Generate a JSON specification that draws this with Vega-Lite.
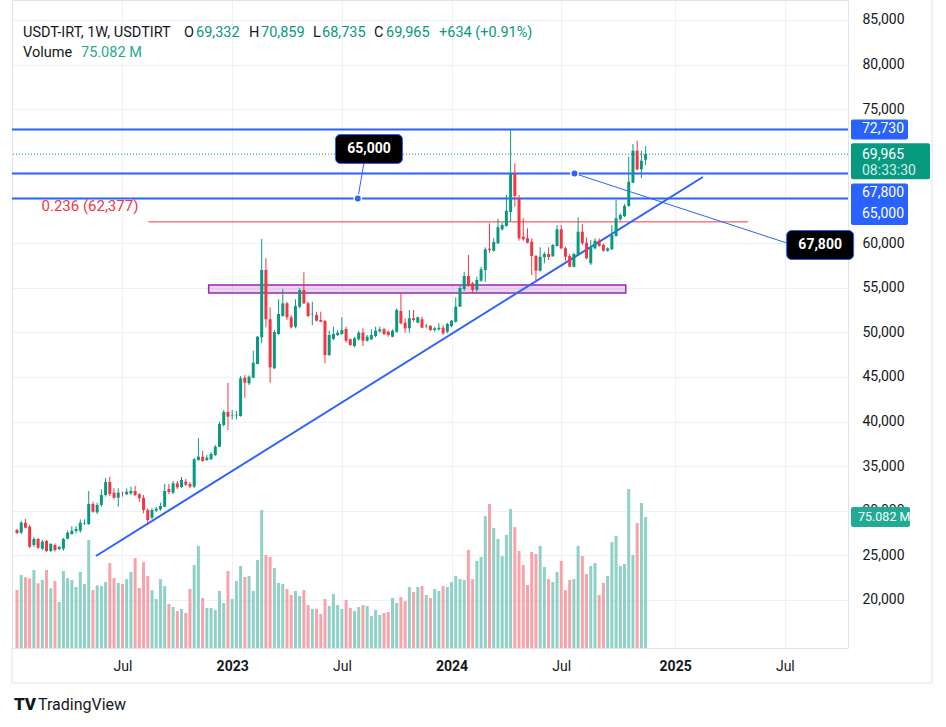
{
"$schema":"https://vega.github.io/schema/vega-lite/v6.json",
"width":836,"height":648,
"autosize":{"type":"none"},
"padding":{"left":12,"top":0,"right":98,"bottom":79},
"background":"#ffffff",
"config":{"view":{"stroke":"#e0e3eb"},"font":"Roboto","text":{"font":"Roboto"}},
"datasets":{
"ohlc":[
{"t":"2022-01-10","o":27844,"h":27956,"l":27395,"c":27507,"v":33.2},
{"t":"2022-01-17","o":27542,"h":28853,"l":27396,"c":28663,"v":41.8},
{"t":"2022-01-24","o":28663,"h":29077,"l":27990,"c":28102,"v":40.5},
{"t":"2022-01-31","o":28214,"h":28405,"l":25827,"c":25972,"v":39.9},
{"t":"2022-02-07","o":26163,"h":27060,"l":25939,"c":26835,"v":44.7},
{"t":"2022-02-14","o":26835,"h":26947,"l":25715,"c":25861,"v":37.1},
{"t":"2022-02-21","o":25749,"h":26723,"l":25603,"c":26533,"v":39.0},
{"t":"2022-02-28","o":26611,"h":26723,"l":25379,"c":25491,"v":44.7},
{"t":"2022-03-07","o":25491,"h":26387,"l":25379,"c":26275,"v":34.2},
{"t":"2022-03-14","o":26163,"h":26349,"l":25416,"c":25603,"v":38.4},
{"t":"2022-03-21","o":25715,"h":26051,"l":25603,"c":25939,"v":26.4},
{"t":"2022-03-28","o":25749,"h":26947,"l":25525,"c":26835,"v":44.1},
{"t":"2022-04-04","o":26868,"h":27766,"l":26801,"c":27542,"v":40.1},
{"t":"2022-04-11","o":27396,"h":28270,"l":27318,"c":27766,"v":39.0},
{"t":"2022-04-18","o":27732,"h":28270,"l":27470,"c":27956,"v":35.0},
{"t":"2022-04-25","o":27766,"h":29040,"l":27542,"c":28663,"v":43.6},
{"t":"2022-05-02","o":28550,"h":29040,"l":28405,"c":28595,"v":36.7},
{"t":"2022-05-09","o":28517,"h":32215,"l":28405,"c":30758,"v":61.9},
{"t":"2022-05-16","o":30758,"h":31016,"l":29783,"c":29895,"v":33.2},
{"t":"2022-05-23","o":29828,"h":30904,"l":29637,"c":30646,"v":35.9},
{"t":"2022-05-30","o":30646,"h":32405,"l":30455,"c":31766,"v":35.5},
{"t":"2022-06-06","o":31766,"h":33672,"l":31576,"c":33223,"v":37.8},
{"t":"2022-06-13","o":33223,"h":33818,"l":31654,"c":31878,"v":48.7},
{"t":"2022-06-20","o":32024,"h":32517,"l":31284,"c":31464,"v":40.1},
{"t":"2022-06-27","o":31464,"h":32517,"l":30455,"c":32024,"v":37.3},
{"t":"2022-07-04","o":32024,"h":32136,"l":31576,"c":31990,"v":36.7},
{"t":"2022-07-11","o":31845,"h":32517,"l":31766,"c":32136,"v":39.5},
{"t":"2022-07-18","o":31957,"h":32706,"l":31766,"c":32215,"v":43.6},
{"t":"2022-07-25","o":32215,"h":32785,"l":31654,"c":31766,"v":51.6},
{"t":"2022-08-01","o":31845,"h":31957,"l":31015,"c":31397,"v":34.4},
{"t":"2022-08-08","o":31464,"h":31766,"l":29715,"c":30085,"v":49.3},
{"t":"2022-08-15","o":30085,"h":30275,"l":28405,"c":28965,"v":41.3},
{"t":"2022-08-22","o":29222,"h":30276,"l":29043,"c":30085,"v":33.2},
{"t":"2022-08-29","o":30007,"h":30455,"l":29861,"c":30231,"v":28.1},
{"t":"2022-09-05","o":30164,"h":30903,"l":30007,"c":30534,"v":39.5},
{"t":"2022-09-12","o":30455,"h":32999,"l":30388,"c":32215,"v":35.5},
{"t":"2022-09-19","o":32439,"h":32999,"l":31878,"c":32102,"v":25.2},
{"t":"2022-09-26","o":32024,"h":33333,"l":31878,"c":33075,"v":23.5},
{"t":"2022-10-03","o":33075,"h":33333,"l":32439,"c":32627,"v":21.2},
{"t":"2022-10-10","o":32663,"h":33784,"l":32551,"c":33450,"v":22.4},
{"t":"2022-10-17","o":33257,"h":33560,"l":32775,"c":32920,"v":20.1},
{"t":"2022-10-24","o":32999,"h":33224,"l":32551,"c":32700,"v":33.8},
{"t":"2022-10-31","o":32700,"h":35913,"l":32551,"c":35768,"v":47.6},
{"t":"2022-11-07","o":35689,"h":38121,"l":35610,"c":36059,"v":58.5},
{"t":"2022-11-14","o":36059,"h":36698,"l":35499,"c":35577,"v":28.7},
{"t":"2022-11-21","o":35689,"h":36250,"l":35577,"c":35946,"v":22.9},
{"t":"2022-11-28","o":35768,"h":36586,"l":35689,"c":36363,"v":22.9},
{"t":"2022-12-05","o":36250,"h":37370,"l":36138,"c":37180,"v":21.8},
{"t":"2022-12-12","o":37180,"h":39981,"l":37113,"c":39723,"v":32.7},
{"t":"2022-12-19","o":39611,"h":41292,"l":39424,"c":41068,"v":25.8},
{"t":"2022-12-26","o":41068,"h":44352,"l":39051,"c":40541,"v":44.1},
{"t":"2023-01-02","o":40676,"h":41292,"l":40250,"c":40732,"v":28.1},
{"t":"2023-01-09","o":40697,"h":41180,"l":40250,"c":40764,"v":38.4},
{"t":"2023-01-16","o":40620,"h":45105,"l":40541,"c":44845,"v":47.0},
{"t":"2023-01-23","o":44912,"h":45215,"l":42671,"c":44352,"v":40.7},
{"t":"2023-01-30","o":44285,"h":45182,"l":44094,"c":45026,"v":41.3},
{"t":"2023-02-06","o":44912,"h":47938,"l":44845,"c":46593,"v":32.7},
{"t":"2023-02-13","o":46447,"h":49585,"l":46413,"c":49507,"v":50.4},
{"t":"2023-02-20","o":49440,"h":60456,"l":48766,"c":56982,"v":79.1},
{"t":"2023-02-27","o":56982,"h":58293,"l":50560,"c":51457,"v":53.3},
{"t":"2023-03-06","o":51457,"h":52802,"l":44352,"c":46078,"v":52.2},
{"t":"2023-03-13","o":45966,"h":50258,"l":45887,"c":50034,"v":45.8},
{"t":"2023-03-20","o":49810,"h":53698,"l":49698,"c":52052,"v":37.3},
{"t":"2023-03-27","o":51827,"h":54818,"l":51749,"c":53250,"v":36.7},
{"t":"2023-04-03","o":53250,"h":53429,"l":51379,"c":51681,"v":33.8},
{"t":"2023-04-10","o":51681,"h":51940,"l":50448,"c":50560,"v":30.4},
{"t":"2023-04-17","o":50627,"h":53698,"l":50448,"c":52947,"v":32.7},
{"t":"2023-04-24","o":52869,"h":54930,"l":52690,"c":54741,"v":29.8},
{"t":"2023-05-01","o":54741,"h":56724,"l":53172,"c":53250,"v":33.2},
{"t":"2023-05-08","o":53250,"h":53429,"l":51681,"c":51827,"v":24.6},
{"t":"2023-05-15","o":52018,"h":53429,"l":50817,"c":52085,"v":22.4},
{"t":"2023-05-22","o":51940,"h":52309,"l":51188,"c":51300,"v":22.4},
{"t":"2023-05-29","o":51379,"h":52309,"l":51121,"c":51188,"v":19.5},
{"t":"2023-06-05","o":51267,"h":51379,"l":46525,"c":47456,"v":28.1},
{"t":"2023-06-12","o":47456,"h":50179,"l":47344,"c":49698,"v":24.1},
{"t":"2023-06-19","o":49250,"h":50627,"l":49138,"c":49810,"v":30.9},
{"t":"2023-06-26","o":49698,"h":50258,"l":49585,"c":49955,"v":24.6},
{"t":"2023-07-03","o":49810,"h":51681,"l":49698,"c":50258,"v":22.4},
{"t":"2023-07-10","o":50370,"h":50627,"l":48835,"c":49059,"v":27.5},
{"t":"2023-07-17","o":49216,"h":49328,"l":48466,"c":48578,"v":22.9},
{"t":"2023-07-24","o":48466,"h":49507,"l":48320,"c":49328,"v":21.2},
{"t":"2023-07-31","o":49216,"h":50179,"l":49059,"c":49955,"v":23.5},
{"t":"2023-08-07","o":49955,"h":50448,"l":48466,"c":49059,"v":24.6},
{"t":"2023-08-14","o":49059,"h":49698,"l":48947,"c":49507,"v":24.1},
{"t":"2023-08-21","o":49216,"h":50336,"l":49138,"c":49698,"v":18.3},
{"t":"2023-08-28","o":49585,"h":50627,"l":49440,"c":50179,"v":21.8},
{"t":"2023-09-04","o":50112,"h":50627,"l":49955,"c":50336,"v":18.9},
{"t":"2023-09-11","o":50336,"h":50515,"l":49698,"c":49810,"v":20.1},
{"t":"2023-09-18","o":50067,"h":50179,"l":49507,"c":49698,"v":20.6},
{"t":"2023-09-25","o":49507,"h":50336,"l":49440,"c":50179,"v":28.7},
{"t":"2023-10-02","o":50067,"h":52690,"l":49955,"c":52499,"v":25.8},
{"t":"2023-10-09","o":52387,"h":54371,"l":50897,"c":51009,"v":29.2},
{"t":"2023-10-16","o":51076,"h":51570,"l":49955,"c":50448,"v":26.9},
{"t":"2023-10-23","o":50448,"h":52499,"l":49955,"c":51570,"v":35.0},
{"t":"2023-10-30","o":51570,"h":52499,"l":51188,"c":51379,"v":32.1},
{"t":"2023-11-06","o":51076,"h":51749,"l":51009,"c":51681,"v":35.0},
{"t":"2023-11-13","o":51457,"h":51749,"l":50448,"c":50515,"v":35.5},
{"t":"2023-11-20","o":50672,"h":50930,"l":50448,"c":50739,"v":30.4},
{"t":"2023-11-27","o":50706,"h":50818,"l":50146,"c":50258,"v":28.7},
{"t":"2023-12-04","o":50258,"h":50627,"l":50067,"c":50448,"v":33.8},
{"t":"2023-12-11","o":50336,"h":51009,"l":50179,"c":50515,"v":32.7},
{"t":"2023-12-18","o":50515,"h":50818,"l":49698,"c":49888,"v":35.5},
{"t":"2023-12-25","o":50067,"h":51076,"l":49888,"c":50930,"v":35.0},
{"t":"2024-01-01","o":50706,"h":51379,"l":50560,"c":51300,"v":37.8},
{"t":"2024-01-08","o":51188,"h":53920,"l":51076,"c":52869,"v":41.3},
{"t":"2024-01-15","o":52869,"h":55189,"l":52832,"c":54965,"v":39.5},
{"t":"2024-01-22","o":54853,"h":56792,"l":54629,"c":56310,"v":39.0},
{"t":"2024-01-29","o":56310,"h":58663,"l":55115,"c":55189,"v":56.2},
{"t":"2024-02-05","o":55491,"h":55670,"l":54371,"c":54741,"v":39.5},
{"t":"2024-02-12","o":54741,"h":56232,"l":54551,"c":55861,"v":49.9},
{"t":"2024-02-19","o":55783,"h":57350,"l":55670,"c":57060,"v":52.2},
{"t":"2024-02-26","o":56982,"h":59526,"l":55670,"c":59302,"v":75.6},
{"t":"2024-03-04","o":59369,"h":62216,"l":58921,"c":59223,"v":82.5},
{"t":"2024-03-11","o":59145,"h":60535,"l":59033,"c":60120,"v":68.8},
{"t":"2024-03-18","o":59974,"h":62731,"l":59897,"c":61767,"v":62.5},
{"t":"2024-03-25","o":61543,"h":62283,"l":61386,"c":62025,"v":52.7},
{"t":"2024-04-01","o":61913,"h":65387,"l":61835,"c":63628,"v":64.8},
{"t":"2024-04-08","o":63483,"h":72730,"l":62396,"c":67820,"v":79.7},
{"t":"2024-04-15","o":67820,"h":68940,"l":64076,"c":65275,"v":69.3},
{"t":"2024-04-22","o":65017,"h":65387,"l":60266,"c":60535,"v":55.6},
{"t":"2024-04-29","o":60714,"h":62776,"l":60266,"c":60423,"v":47.6},
{"t":"2024-05-06","o":60535,"h":61655,"l":59974,"c":60042,"v":36.1},
{"t":"2024-05-13","o":60154,"h":60535,"l":56422,"c":58551,"v":55.0},
{"t":"2024-05-20","o":58551,"h":58663,"l":55861,"c":56904,"v":53.9},
{"t":"2024-05-27","o":56904,"h":59526,"l":56792,"c":58473,"v":58.5},
{"t":"2024-06-03","o":58405,"h":59033,"l":57733,"c":58775,"v":46.4},
{"t":"2024-06-10","o":58775,"h":59526,"l":58103,"c":58439,"v":39.5},
{"t":"2024-06-17","o":58517,"h":59897,"l":58473,"c":59784,"v":37.8},
{"t":"2024-06-24","o":59672,"h":62025,"l":59593,"c":61543,"v":43.6},
{"t":"2024-07-01","o":61543,"h":62025,"l":59302,"c":59414,"v":49.9},
{"t":"2024-07-08","o":59414,"h":59593,"l":58025,"c":58473,"v":33.2},
{"t":"2024-07-15","o":58551,"h":58775,"l":57286,"c":57352,"v":39.0},
{"t":"2024-07-22","o":57352,"h":58920,"l":57286,"c":58775,"v":39.5},
{"t":"2024-07-29","o":58663,"h":62888,"l":58551,"c":61274,"v":58.5},
{"t":"2024-08-05","o":61274,"h":62138,"l":59784,"c":59974,"v":52.7},
{"t":"2024-08-12","o":60042,"h":60647,"l":58181,"c":58293,"v":42.4},
{"t":"2024-08-19","o":57733,"h":60344,"l":57532,"c":59526,"v":47.0},
{"t":"2024-08-26","o":59414,"h":60535,"l":59302,"c":60266,"v":48.7},
{"t":"2024-09-02","o":60266,"h":60535,"l":59593,"c":59672,"v":30.4},
{"t":"2024-09-09","o":59784,"h":59974,"l":59033,"c":59145,"v":37.3},
{"t":"2024-09-16","o":59145,"h":59526,"l":59033,"c":59414,"v":41.3},
{"t":"2024-09-23","o":59302,"h":62025,"l":59223,"c":60905,"v":60.7},
{"t":"2024-09-30","o":60793,"h":64827,"l":60714,"c":62776,"v":64.2},
{"t":"2024-10-07","o":62664,"h":63337,"l":62506,"c":63146,"v":47.0},
{"t":"2024-10-14","o":63034,"h":64379,"l":62888,"c":64155,"v":48.1},
{"t":"2024-10-21","o":64155,"h":69680,"l":64076,"c":66878,"v":91.1},
{"t":"2024-10-28","o":66766,"h":71103,"l":66699,"c":70352,"v":53.3},
{"t":"2024-11-04","o":70352,"h":71473,"l":68132,"c":68267,"v":71.6},
{"t":"2024-11-11","o":68267,"h":70352,"l":67260,"c":69232,"v":83.1},
{"t":"2024-11-18","o":69332,"h":70859,"l":68735,"c":69965,"v":75.082}
],
"levels":[{"p":72730},{"p":67800},{"p":65000}],
"trend":[{"t1":"2022-05-21","p1":24930,"t2":"2025-02-21","p2":67405}],
"fib":[{"t1":"2022-08-16","t2":"2025-05-07","p":62377,"label":"0.236 (62,377)"}],
"zone":[{"t1":"2022-11-24","t2":"2024-10-16","p1":55302,"p2":54406}],
"callLines":[{"t1":"2023-08-08T16:00:00Z","p1":68974,"t2":"2023-07-29T12:00:00Z","p2":65000},{"t1":"2024-07-23","p1":67800,"t2":"2025-07-10T12:00:00Z","p2":60000}],
"callDots":[{"t":"2023-07-29T12:00:00Z","p":65000},{"t":"2024-07-23","p":67800}],
"callBoxes":[{"t":"2023-08-17","p":70543,"label":"65,000"},{"t":"2025-09-03T14:00:00Z","p":59784,"label":"67,800"}]
},
"layer":[
{"layer":[
 {"data":{"name":"ohlc"},"mark":{"type":"bar","width":3,"clip":true},
  "encoding":{
   "x":{"field":"t","type":"temporal","title":null,"scale":{"domain":[{"year":2022,"month":1,"date":10,"utc":true},{"year":2025,"month":10,"date":11,"hours":12,"utc":true}]},
     "axis":{"orient":"bottom","title":null,"values":[{"year":2022,"month":7,"date":4,"utc":true},{"year":2023,"month":1,"date":2,"utc":true},{"year":2023,"month":7,"date":3,"utc":true},{"year":2024,"month":1,"date":1,"utc":true},{"year":2024,"month":7,"date":1,"utc":true},{"year":2025,"month":1,"date":6,"utc":true},{"year":2025,"month":7,"date":7,"utc":true}],
      "labelExpr":"utcFormat(datum.value,'%m')=='01' ? utcFormat(datum.value,'%Y') : utcFormat(datum.value,'%b')",
      "labelFontWeight":{"condition":{"test":"utcmonth(datum.value)===0","value":"bold"},"value":"normal"},
      "grid":true,"gridColor":"#eef0f5","ticks":false,"domain":false,"labelPadding":11,"labelFontSize":14,"labelColor":"#131722","labelFont":"Roboto","labelFlush":false,"labelOverlap":false}},
   "y":{"field":"v","type":"quantitative","title":null,"scale":{"domain":[0,371.4],"nice":false,"zero":false},"axis":null},
   "color":{"condition":{"test":"datum.c >= datum.o","value":"#8fd1c6"},"value":"#f7a3aa"}}},
 {"data":{"values":[{}]},"mark":{"type":"rect","fill":"#22ab94","cornerRadius":2,"yOffset":-10,"y2Offset":10},
  "encoding":{"x":{"value":839},"x2":{"value":898},"y":{"datum":75.082,"title":null,"axis":null},"y2":{"datum":75.082}}},
 {"data":{"values":[{}]},"mark":{"type":"text","text":"75.082 M","align":"left","baseline":"middle","color":"#ffffff","fontSize":12.5},
  "encoding":{"x":{"value":846},"y":{"datum":75.082,"title":null,"axis":null}}}
]},
{"layer":[
 {"data":{"name":"levels"},"mark":{"type":"rule","color":"#2962ff","strokeWidth":2},
  "encoding":{"y":{"field":"p","type":"quantitative","title":null}}},
 {"data":{"values":[{}]},"mark":{"type":"rule","color":"#089981","strokeWidth":1,"strokeDash":[1,2]},
  "encoding":{"y":{"datum":69965,"title":null}}},
 {"data":{"name":"fib"},"mark":{"type":"rule","color":"#f23645","strokeWidth":1},
  "encoding":{"x":{"field":"t1","type":"temporal","title":null},"x2":{"field":"t2"},"y":{"field":"p","type":"quantitative","title":null}}},
 {"data":{"name":"fib"},"mark":{"type":"text","align":"right","baseline":"middle","dx":-10,"dy":-16,"color":"#f23645","fontSize":15},
  "encoding":{"x":{"field":"t1","type":"temporal","title":null},"y":{"field":"p","type":"quantitative","title":null},"text":{"field":"label"}}},
 {"data":{"name":"zone"},"mark":{"type":"rect","fill":"#9c27b0","fillOpacity":0.2,"stroke":"#9c27b0","strokeWidth":1.5},
  "encoding":{"x":{"field":"t1","type":"temporal","title":null},"x2":{"field":"t2"},"y":{"field":"p1","type":"quantitative","title":null},"y2":{"field":"p2"}}},
 {"data":{"name":"trend"},"mark":{"type":"rule","color":"#2962ff","strokeWidth":2},
  "encoding":{"x":{"field":"t1","type":"temporal","title":null},"x2":{"field":"t2"},"y":{"field":"p1","type":"quantitative","title":null},"y2":{"field":"p2"}}},
 {"data":{"name":"ohlc"},"mark":{"type":"rule","strokeWidth":1,"clip":true},
  "encoding":{"x":{"field":"t","type":"temporal","title":null},"y":{"field":"l","type":"quantitative","title":null},"y2":{"field":"h"},
   "color":{"condition":{"test":"datum.c >= datum.o","value":"#089981"},"value":"#f23645"}}},
 {"data":{"name":"ohlc"},"mark":{"type":"bar","width":3,"clip":true},
  "encoding":{"x":{"field":"t","type":"temporal","title":null},
   "y":{"field":"o","type":"quantitative","title":null,"scale":{"domain":[14620,87241],"nice":false,"zero":false},
     "axis":{"orient":"right","title":null,"values":[20000,25000,30000,35000,40000,45000,50000,55000,60000,75000,80000,85000],"labelExpr":"format(datum.value, ',')","grid":true,"gridColor":"#eef0f5","ticks":false,"domain":false,"labelPadding":14,"labelFontSize":14,"labelColor":"#131722","labelFont":"Roboto","labelAlign":"left","labelBaseline":"middle"}},
   "y2":{"field":"c"},
   "color":{"condition":{"test":"datum.c >= datum.o","value":"#089981"},"value":"#f23645"}}},
 {"data":{"name":"callLines"},"mark":{"type":"rule","color":"#2962ff","strokeWidth":1},
  "encoding":{"x":{"field":"t1","type":"temporal","title":null},"x2":{"field":"t2"},"y":{"field":"p1","type":"quantitative","title":null},"y2":{"field":"p2"}}},
 {"data":{"name":"callDots"},"mark":{"type":"point","filled":true,"color":"#2962ff","size":55,"stroke":"#ffffff","strokeWidth":1.5,"opacity":1},
  "encoding":{"x":{"field":"t","type":"temporal","title":null},"y":{"field":"p","type":"quantitative","title":null}}},
 {"data":{"name":"callBoxes"},"mark":{"type":"rect","fill":"#000000","stroke":"#2962ff","strokeWidth":1,"cornerRadius":5,"xOffset":-33.5,"x2Offset":33.5,"yOffset":-14.5,"y2Offset":14.5},
  "encoding":{"x":{"field":"t","type":"temporal","title":null},"x2":{"field":"t"},"y":{"field":"p","type":"quantitative","title":null},"y2":{"field":"p"}}},
 {"data":{"name":"callBoxes"},"mark":{"type":"text","align":"center","baseline":"middle","color":"#ffffff","fontSize":14,"fontWeight":"bold"},
  "encoding":{"x":{"field":"t","type":"temporal","title":null},"y":{"field":"p","type":"quantitative","title":null},"text":{"field":"label"}}},
 {"data":{"values":[{}]},"mark":{"type":"rect","fill":"#2962ff","cornerRadius":2,"yOffset":-10,"y2Offset":10},
  "encoding":{"x":{"value":839},"x2":{"value":896},"y":{"datum":72730,"title":null},"y2":{"datum":72730}}},
 {"data":{"values":[{}]},"mark":{"type":"text","text":"72,730","align":"left","baseline":"middle","color":"#ffffff","fontSize":14},
  "encoding":{"x":{"value":850},"y":{"datum":72730,"title":null}}},
 {"data":{"values":[{}]},"mark":{"type":"rect","fill":"#089981","cornerRadius":2,"yOffset":-11,"y2Offset":25},
  "encoding":{"x":{"value":839},"x2":{"value":918},"y":{"datum":69965,"title":null},"y2":{"datum":69965}}},
 {"data":{"values":[{}]},"mark":{"type":"text","text":"69,965","align":"left","baseline":"middle","color":"#ffffff","fontSize":14,"dy":1},
  "encoding":{"x":{"value":850},"y":{"datum":69965,"title":null}}},
 {"data":{"values":[{}]},"mark":{"type":"text","text":"08:33:30","align":"left","baseline":"middle","color":"#d3eee9","fontSize":14,"dy":17},
  "encoding":{"x":{"value":850},"y":{"datum":69965,"title":null}}},
 {"data":{"values":[{}]},"mark":{"type":"rect","fill":"#2962ff","cornerRadius":2,"yOffset":10,"y2Offset":51.5},
  "encoding":{"x":{"value":839},"x2":{"value":896},"y":{"datum":67800,"title":null},"y2":{"datum":67800}}},
 {"data":{"values":[{}]},"mark":{"type":"text","text":"67,800","align":"left","baseline":"middle","color":"#ffffff","fontSize":14,"dy":20},
  "encoding":{"x":{"value":850},"y":{"datum":67800,"title":null}}},
 {"data":{"values":[{}]},"mark":{"type":"text","text":"65,000","align":"left","baseline":"middle","color":"#ffffff","fontSize":14,"dy":40.5},
  "encoding":{"x":{"value":850},"y":{"datum":67800,"title":null}}},
 {"data":{"values":[{}]},"mark":{"type":"text","text":"USDT-IRT, 1W, USDTIRT","align":"left","baseline":"middle","color":"#131722","fontSize":14.5},"encoding":{"x":{"value":11},"y":{"value":33}}},
 {"data":{"values":[{}]},"mark":{"type":"text","text":"O","align":"left","baseline":"middle","color":"#131722","fontSize":14.5},"encoding":{"x":{"value":172},"y":{"value":33}}},
 {"data":{"values":[{}]},"mark":{"type":"text","text":"69,332","align":"left","baseline":"middle","color":"#089981","fontSize":14.5},"encoding":{"x":{"value":184},"y":{"value":33}}},
 {"data":{"values":[{}]},"mark":{"type":"text","text":"H","align":"left","baseline":"middle","color":"#131722","fontSize":14.5},"encoding":{"x":{"value":237},"y":{"value":33}}},
 {"data":{"values":[{}]},"mark":{"type":"text","text":"70,859","align":"left","baseline":"middle","color":"#089981","fontSize":14.5},"encoding":{"x":{"value":249},"y":{"value":33}}},
 {"data":{"values":[{}]},"mark":{"type":"text","text":"L","align":"left","baseline":"middle","color":"#131722","fontSize":14.5},"encoding":{"x":{"value":301},"y":{"value":33}}},
 {"data":{"values":[{}]},"mark":{"type":"text","text":"68,735","align":"left","baseline":"middle","color":"#089981","fontSize":14.5},"encoding":{"x":{"value":310},"y":{"value":33}}},
 {"data":{"values":[{}]},"mark":{"type":"text","text":"C","align":"left","baseline":"middle","color":"#131722","fontSize":14.5},"encoding":{"x":{"value":362},"y":{"value":33}}},
 {"data":{"values":[{}]},"mark":{"type":"text","text":"69,965","align":"left","baseline":"middle","color":"#089981","fontSize":14.5},"encoding":{"x":{"value":374},"y":{"value":33}}},
 {"data":{"values":[{}]},"mark":{"type":"text","text":"+634 (+0.91%)","align":"left","baseline":"middle","color":"#089981","fontSize":14.5},"encoding":{"x":{"value":427},"y":{"value":33}}},
 {"data":{"values":[{}]},"mark":{"type":"text","text":"Volume","align":"left","baseline":"middle","color":"#131722","fontSize":14.5},"encoding":{"x":{"value":11},"y":{"value":53}}},
 {"data":{"values":[{}]},"mark":{"type":"text","text":"75.082 M","align":"left","baseline":"middle","color":"#22ab94","fontSize":14.5},"encoding":{"x":{"value":69},"y":{"value":53}}},
 {"data":{"values":[{}]},"mark":{"type":"text","text":"TV","align":"left","baseline":"middle","color":"#131722","fontSize":17,"fontWeight":900},"encoding":{"x":{"value":2},"y":{"value":705}}},
 {"data":{"values":[{}]},"mark":{"type":"text","text":"TradingView","align":"left","baseline":"middle","color":"#131722","fontSize":16},"encoding":{"x":{"value":26},"y":{"value":705}}},
 {"data":{"values":[{}]},"mark":{"type":"rule","color":"#e0e3eb","strokeWidth":1},"encoding":{"x":{"value":920},"y":{"value":0},"y2":{"value":683}}},
 {"data":{"values":[{}]},"mark":{"type":"rule","color":"#e0e3eb","strokeWidth":1},"encoding":{"x":{"value":0},"x2":{"value":920},"y":{"value":683}}},
 {"data":{"values":[{}]},"mark":{"type":"rule","color":"#e0e3eb","strokeWidth":1},"encoding":{"x":{"value":0},"y":{"value":648},"y2":{"value":683}}}
]}
],
"resolve":{"scale":{"y":"independent"}}
}
